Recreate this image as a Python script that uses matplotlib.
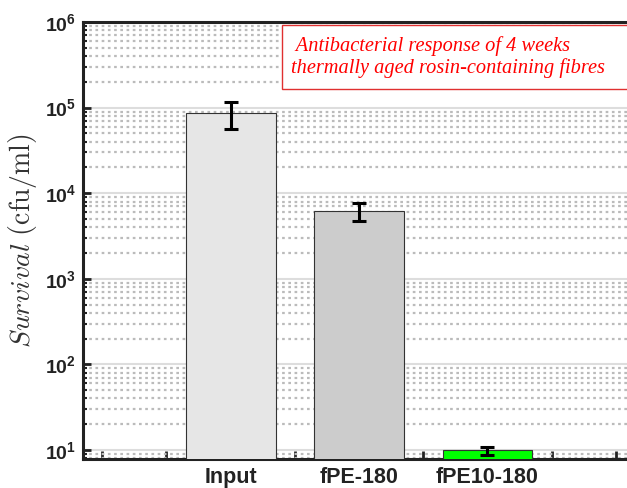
import matplotlib
matplotlib.use("Agg")
import matplotlib.pyplot as plt
from matplotlib.patches import Rectangle
from matplotlib.ticker import LogLocator, NullFormatter

# data
groups = ["Input", "fPE-180", "fPE10-180"]
positions = [3, 5, 7]
survival = [86500, 6200, 10]
err_low = [30500, 1470, 1.3]
err_high = [29500, 1500, 0.8]
bar_colors = ["#e6e6e6", "#cccccc", "#00ff00"]
xtick_pos = [1, 2, 3, 4, 5, 6, 7, 8, 9]

plt.rcParams["mathtext.fontset"] = "cm"

fig = plt.figure(figsize=(6.27, 4.88), dpi=100)
ax = fig.add_axes([83 / 627, 1 - 459 / 488, (648 - 83) / 627, (459 - 22) / 488])

ax.bar(positions, survival, width=1.4, color=bar_colors, edgecolor="#333333",
       linewidth=0.8, zorder=3)
ax.errorbar(positions, survival, yerr=[err_low, err_high], fmt="none",
            ecolor="black", elinewidth=2.2, capsize=5, capthick=2.2, zorder=4)

ax.set_yscale("log")
ax.set_ylim(10 ** 0.895, 1e6)
ax.set_xlim(0.7, 9.5)

ax.yaxis.set_major_locator(LogLocator(base=10, numticks=10))
ax.yaxis.set_minor_locator(LogLocator(base=10, subs=range(2, 10), numticks=50))
ax.yaxis.set_minor_formatter(NullFormatter())

ax.set_xticks(xtick_pos)
ax.set_xticklabels([groups[positions.index(p)] if p in positions else "" for p in xtick_pos])

ax.grid(True, which="major", axis="y", color="#dddddd", linewidth=1.5, linestyle="-", zorder=0)
ax.grid(True, which="minor", axis="y", color="#bbbbbb", linewidth=1.6,
        linestyle=(0, (1.2, 1.6)), zorder=0)
ax.set_axisbelow(True)

ax.tick_params(axis="both", which="major", direction="in", length=6, width=2,
               color="#222222")
ax.tick_params(axis="y", which="minor", direction="in", length=3, width=1.5,
               color="#222222")
ax.tick_params(axis="x", which="major", labelsize=15.5, pad=6)
ax.tick_params(axis="y", which="major", labelsize=14, pad=5)
for lab in ax.get_xticklabels() + ax.get_yticklabels():
    lab.set_fontweight("bold")
    lab.set_fontfamily("Liberation Sans")
    lab.set_color("#222222")

for side in ["left", "bottom", "top"]:
    ax.spines[side].set_linewidth(2.2)
    ax.spines[side].set_color("#222222")
ax.spines["right"].set_visible(False)

ax.set_ylabel(r"$\mathit{Survival}\ \mathrm{(cfu/ml)}$", fontsize=20, color="#333333",
              labelpad=4)

# note box, running off the right edge as in the original
ax.add_patch(Rectangle((0.352, 0.847), 0.7, 0.146, transform=ax.transAxes,
                       facecolor="white", edgecolor="#e03030", linewidth=1.0,
                       clip_on=False, zorder=5))
ax.text(0.368, 0.968,
        " Antibacterial response of 4 weeks\nthermally aged rosin-containing fibres",
        transform=ax.transAxes, ha="left", va="top", color="red",
        fontsize=14.7, fontstyle="italic", fontfamily="Liberation Serif",
        linespacing=1.17, zorder=6)

fig.savefig("out.png", dpi=100)
